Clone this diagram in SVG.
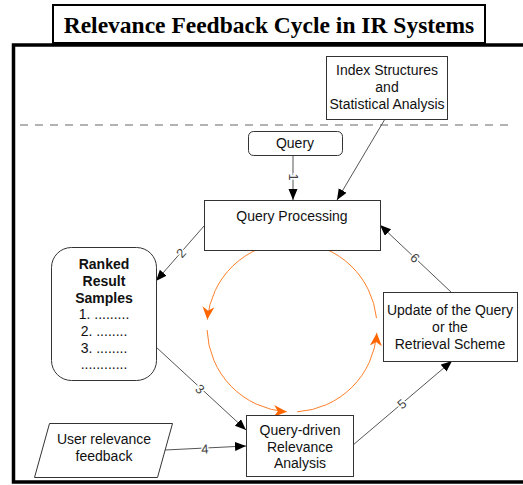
<svg xmlns="http://www.w3.org/2000/svg" width="523" height="485" viewBox="0 0 523 485">
<style>
.box{fill:#fff;stroke:#333;stroke-width:1}
.t{font-family:"Liberation Sans",Arial,sans-serif;font-size:14px;fill:#111;text-anchor:middle}
.b{font-weight:bold}
.con{fill:none;stroke:#555;stroke-width:1}
.orange{fill:none;stroke:#ff7f2a;stroke-width:1}
.lbl{font-family:"Liberation Sans",Arial,sans-serif;font-size:13px;fill:#444;text-anchor:middle;dominant-baseline:central;stroke:#fff;stroke-width:3;paint-order:stroke}
</style>
<defs>
<marker id="ah" markerUnits="userSpaceOnUse" markerWidth="12" markerHeight="10" refX="11" refY="4.5" orient="auto">
<path d="M0,0 L11,4.5 L0,9 z" fill="#000"/>
</marker>
<marker id="oh" markerUnits="userSpaceOnUse" markerWidth="15" markerHeight="13" refX="13" refY="6" orient="auto">
<path d="M0,0 L13,6 L0,12 L4,6 z" fill="#ff6600"/>
</marker>
</defs>
<rect width="523" height="485" fill="#fff"/>

<g id="title">
<rect x="53" y="5" width="432" height="38" fill="#fff" stroke="#000" stroke-width="2"/>
<text x="269" y="33" font-family="Liberation Serif,'Times New Roman',serif" font-size="23.5" font-weight="bold" text-anchor="middle" fill="#000">Relevance Feedback Cycle in IR Systems</text>
</g>

<g id="frame">
<path d="M523,45 H13.5 V482 H523" fill="none" stroke="#000" stroke-width="3.5"/>
<line x1="20" y1="125" x2="512" y2="125" stroke="#666" stroke-width="1" stroke-dasharray="8 7"/>
</g>

<g id="connectors">
<line class="con" x1="293" y1="155" x2="293" y2="200" marker-end="url(#ah)"/>
<line class="con" x1="385" y1="119" x2="337" y2="200" marker-end="url(#ah)"/>
<line class="con" x1="204" y1="226" x2="156" y2="281" marker-end="url(#ah)"/>
<line class="con" x1="156" y1="347" x2="246" y2="430" marker-end="url(#ah)"/>
<line class="con" x1="165" y1="450" x2="246" y2="446" marker-end="url(#ah)"/>
<line class="con" x1="353" y1="445" x2="452" y2="361" marker-end="url(#ah)"/>
<line class="con" x1="451" y1="292" x2="380" y2="225" marker-end="url(#ah)"/>
<text class="lbl" x="293" y="177" transform="rotate(90 293 177)">1</text>
<text class="lbl" x="181" y="253" transform="rotate(-48 181 253)">2</text>
<text class="lbl" x="200" y="389" transform="rotate(42 200 389)">3</text>
<text class="lbl" x="205" y="449" transform="rotate(-3 205 449)">4</text>
<text class="lbl" x="402" y="404" transform="rotate(-40 402 404)">5</text>
<text class="lbl" x="415" y="258" transform="rotate(43 415 258)">6</text>
</g>

<g id="cycle">
<path class="orange" d="M376.5,318.1 A85,85 0 0 0 297.9,242.2" marker-end="url(#oh)"/>
<path class="orange" d="M287.6,242.1 A85,85 0 0 0 207.3,319.6" marker-end="url(#oh)"/>
<path class="orange" d="M207.1,330 A85,85 0 0 0 286.8,411.8" marker-end="url(#oh)"/>
<path class="orange" d="M297.2,411.8 A85,85 0 0 0 376.8,332.9" marker-end="url(#oh)"/>
</g>

<g id="index">
<rect class="box" x="326.5" y="56.5" width="121" height="63"/>
<text class="t" x="387" y="75">Index Structures</text>
<text class="t" x="387" y="92">and</text>
<text class="t" x="387" y="109">Statistical Analysis</text>
</g>

<g id="query">
<rect class="box" x="248.5" y="131.5" width="94" height="24" rx="5"/>
<text class="t" x="295" y="148">Query</text>
</g>

<g id="processing">
<rect class="box" x="204.5" y="200.5" width="176" height="50"/>
<text class="t" x="292" y="221">Query Processing</text>
</g>

<g id="ranked">
<rect class="box" x="51.5" y="247.5" width="105" height="133" rx="20"/>
<text class="t b" x="104" y="269" font-size="14.5">Ranked</text>
<text class="t b" x="104" y="286" font-size="14.5">Result</text>
<text class="t b" x="104" y="303" font-size="14.5">Samples</text>
<text class="t" x="104" y="319">1. .........</text>
<text class="t" x="104" y="336">2. ........</text>
<text class="t" x="104" y="353">3. ........</text>
<text class="t" x="104" y="369">............</text>
</g>

<g id="feedback">
<polygon class="box" points="49.5,423.5 172.5,423.5 157.5,477.5 34.5,477.5"/>
<text class="t" x="104" y="444">User relevance</text>
<text class="t" x="104" y="461">feedback</text>
</g>

<g id="analysis">
<rect class="box" x="246.5" y="415.5" width="107" height="61"/>
<text class="t" x="300" y="435">Query-driven</text>
<text class="t" x="300" y="452">Relevance</text>
<text class="t" x="300" y="468">Analysis</text>
</g>

<g id="update">
<rect class="box" x="383.5" y="292.5" width="134" height="69"/>
<text class="t" x="450" y="315">Update of the Query</text>
<text class="t" x="450" y="332">or the</text>
<text class="t" x="450" y="349">Retrieval Scheme</text>
</g>
</svg>
